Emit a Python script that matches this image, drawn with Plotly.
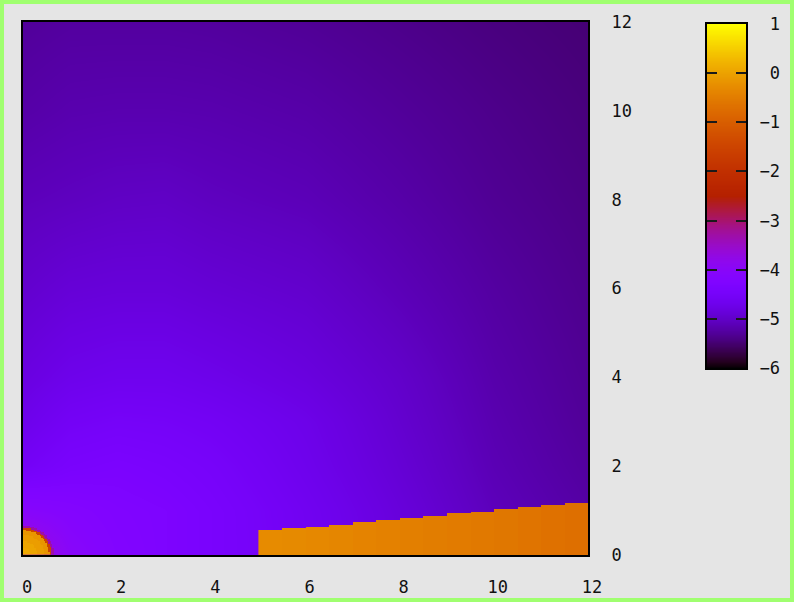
import numpy as np
import plotly.graph_objects as go

# ---- data -------------------------------------------------------------
# smooth background field, sampled on a coarse grid (rows = y, cols = x)
x_grid = [0, 1, 2, 3, 4, 6, 8, 10, 12]
y_grid = [0, 1, 2, 3, 4, 6, 8, 10, 12]
field = [
    [-3.40, -4.00, -4.20, -4.30, -4.40, -4.60, -4.82, -5.05, -5.18],  # y=0
    [-4.05, -4.15, -4.25, -4.30, -4.40, -4.62, -4.85, -5.08, -5.22],  # y=1
    [-4.55, -4.40, -4.35, -4.40, -4.47, -4.68, -4.90, -5.12, -5.26],  # y=2
    [-4.70, -4.55, -4.50, -4.52, -4.57, -4.72, -4.94, -5.15, -5.29],  # y=3
    [-4.80, -4.70, -4.66, -4.66, -4.71, -4.82, -4.98, -5.18, -5.31],  # y=4
    [-4.95, -4.88, -4.86, -4.86, -4.90, -4.96, -5.10, -5.24, -5.35],  # y=6
    [-5.08, -5.05, -5.02, -5.01, -5.05, -5.10, -5.20, -5.31, -5.39],  # y=8
    [-5.20, -5.16, -5.15, -5.15, -5.16, -5.20, -5.28, -5.36, -5.43],  # y=10
    [-5.28, -5.25, -5.25, -5.25, -5.26, -5.30, -5.36, -5.42, -5.47],  # y=12
]

# quarter disk at the origin: outer radius of each ring and its value
disk_ring_edges = [0.15, 0.30, 0.45, 0.56, 0.61, 0.66]
disk_ring_values = [0.10, 0.05, -0.05, -0.15, -1.50, -3.30]

# slanted strip along the bottom edge: column centres, top edge, value
strip_x = [5.25, 5.75, 6.25, 6.75, 7.25, 7.75, 8.25,
           8.75, 9.25, 9.75, 10.25, 10.75, 11.25, 11.75]
strip_top = [0.55, 0.60, 0.64, 0.69, 0.74, 0.79, 0.84,
             0.88, 0.93, 0.98, 1.03, 1.08, 1.13, 1.18]
strip_value = [-0.28, -0.30, -0.33, -0.36, -0.39, -0.42, -0.45,
               -0.48, -0.51, -0.54, -0.57, -0.61, -0.65, -0.69]

axis_ticks = [0, 2, 4, 6, 8, 10, 12]
cb_ticks = [-6, -5, -4, -3, -2, -1, 0, 1]
z_min, z_max = -6, 1

# ---- palette: sqrt(t), t^3, sin(2*pi*t) --------------------------------
tp = np.linspace(0, 1, 65)
rr = np.sqrt(tp)
gg = tp ** 3
bb = np.clip(np.sin(2 * np.pi * tp), 0, 1)
palette = [[float(t), f"rgb({int(round(r*255))},{int(round(g*255))},{int(round(b*255))})"]
           for t, r, g, b in zip(tp, rr, gg, bb)]

# ---- layers ------------------------------------------------------------
strip_rows = np.arange(0.01, 1.30, 0.02)
strip_z = [[v if yy < top else None for v, top in zip(strip_value, strip_top)]
           for yy in strip_rows]

disk_c = np.arange(0.015, 0.75, 0.03)
disk_z = []
for yy in disk_c:
    row = []
    for xx in disk_c:
        k = int(np.searchsorted(disk_ring_edges, np.hypot(xx, yy)))
        row.append(disk_ring_values[k] if k < len(disk_ring_values) else None)
    disk_z.append(row)

key_levels = np.linspace(z_min, z_max, 141)

font = dict(family="DejaVu Sans Mono", size=17, color="#111111")

fig = go.Figure()
fig.add_trace(go.Heatmap(x=x_grid, y=y_grid, z=field, zsmooth="best",
                         coloraxis="coloraxis", hoverinfo="skip"))
fig.add_trace(go.Heatmap(x=strip_x, y=strip_rows, z=strip_z, zsmooth=False,
                         coloraxis="coloraxis", hoverinfo="skip"))
fig.add_trace(go.Heatmap(x=disk_c, y=disk_c, z=disk_z, zsmooth=False,
                         coloraxis="coloraxis", hoverinfo="skip"))
fig.add_trace(go.Heatmap(x=[0.5], y=key_levels, z=[[v] for v in key_levels],
                         zsmooth="best", coloraxis="coloraxis",
                         xaxis="x2", yaxis="y2", hoverinfo="skip"))

W, H = 794, 602
fig.update_layout(
    width=W, height=H,
    margin=dict(l=0, r=0, t=0, b=0, autoexpand=False),
    paper_bgcolor="#e5e5e5",
    plot_bgcolor="#e5e5e5",
    font=font,
    showlegend=False,
    coloraxis=dict(colorscale=palette, cmin=z_min, cmax=z_max, showscale=False),
    xaxis=dict(domain=[23 / W, 588 / W], range=[0, 12], tickvals=axis_ticks,
               automargin=False,
               showgrid=False, zeroline=False, showline=True, mirror=True,
               linecolor="black", linewidth=2, ticks="",
               ticklabelstandoff=16, ticklabelshift=4),
    yaxis=dict(domain=[1 - 555 / H, 1 - 22 / H], range=[0, 12], tickvals=axis_ticks,
               automargin=False,
               side="right", showgrid=False, zeroline=False, showline=True,
               mirror=True, linecolor="black", linewidth=2, ticks="",
               ticklabelstandoff=18),
    xaxis2=dict(domain=[707 / W, 746 / W], range=[0, 1], anchor="y2",
                automargin=False,
                showgrid=False, zeroline=False, showticklabels=False,
                showline=True, mirror=True, linecolor="black", linewidth=2,
                ticks=""),
    yaxis2=dict(domain=[1 - 368 / H, 1 - 24 / H], range=[z_min, z_max], anchor="x2",
                automargin=False,
                side="right", tickvals=cb_ticks,
                ticktext=[("\u2212" if v < 0 else "\u2007") + str(abs(v)) for v in cb_ticks],
                showgrid=False, zeroline=False, showline=True, mirror="ticks",
                linecolor="black", linewidth=2, ticks="inside", ticklen=10,
                tickwidth=2, tickcolor="#1a1a1a", ticklabelstandoff=8),
    shapes=[dict(type="rect", xref="paper", yref="paper", x0=0, x1=1, y0=0, y1=1,
                 line=dict(color="rgb(160,255,112)", width=8), layer="above")],
)

fig.write_html("out.html")
